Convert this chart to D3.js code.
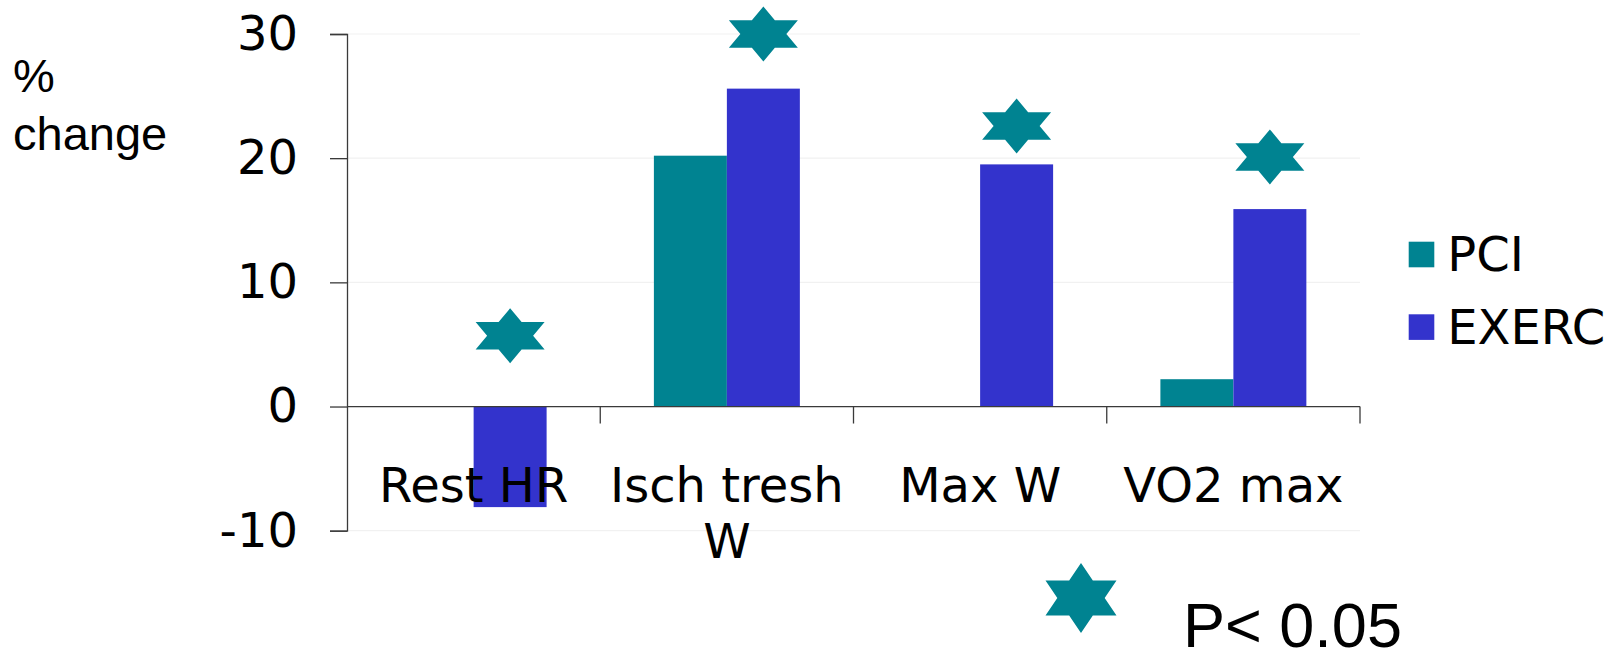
<!DOCTYPE html>
<html>
<head>
<meta charset="utf-8">
<script src="https://cdn.jsdelivr.net/npm/d3@7"></script>
<style>
  html, body { margin: 0; padding: 0; background: #fff; }
  svg { display: block; }
</style>
</head>
<body>
<svg id="chart" width="1618" height="652"></svg>
<script>
// Categories and series values (% change)
const categories = ["Rest HR", "Isch tresh W", "Max W", "VO2 max"];
const categoryLines = [["Rest HR"], ["Isch tresh", "W"], ["Max W"], ["VO2 max"]];
const seriesNames = ["PCI", "EXERC"];
const pciValues = [0, 20.2, 0, 2.2];
const exercValues = [-8.1, 25.6, 19.5, 15.9];
// Significance markers (p < 0.05) drawn above the EXERC bars
const markerValues = [5.7, 30, 22.6, 20.1];
const yTicks = [-10, 0, 10, 20, 30];

const colors = { PCI: "#008391", EXERC: "#3333CC" };
const tickFont = "'DejaVu Sans', Verdana, sans-serif";
const textFont = "'Liberation Sans', Arial, sans-serif";

const svg = d3.select("#chart");

const x0 = d3.scaleBand().domain(categories).range([347, 1360]).padding(0);
const x1 = d3.scaleBand().domain(seriesNames).range([0, x0.bandwidth()]).paddingInner(0).paddingOuter(0.735);
const y = d3.scaleLinear().domain([-10, 30]).range([530.7, 34]);

// six-pointed star: two overlapping triangles
function hexagram(w, h) {
  const pts = [
    [0, -h / 2], [w / 6, -h / 4], [w / 2, -h / 4], [w / 3, 0],
    [w / 2, h / 4], [w / 6, h / 4], [0, h / 2], [-w / 6, h / 4],
    [-w / 2, h / 4], [-w / 3, 0], [-w / 2, -h / 4], [-w / 6, -h / 4]
  ];
  return "M" + pts.map(p => p.join(",")).join("L") + "Z";
}

// faint horizontal gridlines
svg.append("g")
  .selectAll("line")
  .data(yTicks.filter(t => t !== 0))
  .join("line")
  .attr("x1", x0.range()[0]).attr("x2", x0.range()[1])
  .attr("y1", d => y(d)).attr("y2", d => y(d))
  .attr("stroke", "#f1f1f1").attr("stroke-width", 1.2);

// bars
const rows = categories.map((c, i) => ({ category: c, values: [
  { key: "PCI", value: pciValues[i] },
  { key: "EXERC", value: exercValues[i] }
]}));

const groups = svg.append("g").selectAll("g")
  .data(rows).join("g")
  .attr("transform", d => `translate(${x0(d.category)},0)`);

groups.selectAll("rect")
  .data(d => d.values.filter(v => v.value !== 0))
  .join("rect")
  .attr("x", d => x1(d.key))
  .attr("width", x1.bandwidth())
  .attr("y", d => y(Math.max(0, d.value)))
  .attr("height", d => Math.abs(y(d.value) - y(0)))
  .attr("fill", d => colors[d.key]);

// y axis
const yAxis = svg.append("g")
  .attr("transform", `translate(${x0.range()[0]},0)`)
  .call(d3.axisLeft(y).tickValues(yTicks).tickSize(17).tickSizeOuter(17).tickPadding(32).tickFormat(d => String(d)));
yAxis.select(".domain").attr("stroke", "#3a3a3a").attr("stroke-width", 1.3);
yAxis.selectAll(".tick line").attr("stroke", "#3a3a3a").attr("stroke-width", 1.3);
yAxis.selectAll(".tick text")
  .attr("font-family", tickFont).attr("font-size", 48).attr("fill", "#000");

// x axis line at zero with ticks on category boundaries
const xAxis = svg.append("g");
xAxis.append("line")
  .attr("x1", x0.range()[0]).attr("x2", x0.range()[1])
  .attr("y1", y(0)).attr("y2", y(0))
  .attr("stroke", "#3a3a3a").attr("stroke-width", 1.3);
xAxis.selectAll("line.bound")
  .data(categories)
  .join("line")
  .attr("class", "bound")
  .attr("x1", d => x0(d) + x0.bandwidth()).attr("x2", d => x0(d) + x0.bandwidth())
  .attr("y1", y(0)).attr("y2", y(0) + 17)
  .attr("stroke", "#3a3a3a").attr("stroke-width", 1.3);

// category labels
const labels = svg.append("g")
  .selectAll("text")
  .data(categories)
  .join("text")
  .attr("x", d => x0(d) + x0.bandwidth() / 2)
  .attr("y", 502.3)
  .attr("text-anchor", "middle")
  .attr("font-family", tickFont).attr("font-size", 48).attr("fill", "#000");
labels.each(function (d, i) {
  d3.select(this).selectAll("tspan")
    .data(categoryLines[i])
    .join("tspan")
    .attr("x", x0(d) + x0.bandwidth() / 2)
    .attr("dy", (t, j) => j === 0 ? 0 : 56)
    .text(t => t);
});

// significance stars above EXERC bars
svg.append("g")
  .selectAll("path")
  .data(categories)
  .join("path")
  .attr("transform", (d, i) => `translate(${x0(d) + x1("EXERC") + x1.bandwidth() / 2},${y(markerValues[i])})`)
  .attr("d", hexagram(69, 55))
  .attr("fill", colors.PCI);

// y axis title
const yTitle = svg.append("text")
  .attr("font-family", textFont).attr("font-size", 47).attr("fill", "#000");
yTitle.append("tspan").attr("x", 13).attr("y", 92).text("%");
yTitle.append("tspan").attr("x", 13).attr("y", 150).text("change");

// legend
const legend = svg.append("g")
  .selectAll("g")
  .data(seriesNames)
  .join("g")
  .attr("transform", (d, i) => `translate(1408.7,${241.7 + i * 72.6})`);
legend.append("rect")
  .attr("width", 25.6).attr("height", 25.6)
  .attr("fill", d => colors[d]);
legend.append("text")
  .attr("x", 38.5).attr("y", 29.5)
  .attr("font-family", tickFont).attr("font-size", 48).attr("fill", "#000")
  .text(d => d);

// significance key
svg.append("path")
  .attr("transform", "translate(1081,598)")
  .attr("d", hexagram(71, 70))
  .attr("fill", colors.PCI);
svg.append("text")
  .attr("x", 1183).attr("y", 647)
  .attr("font-family", textFont).attr("font-size", 63).attr("fill", "#000")
  .text("P< 0.05");
</script>
</body>
</html>
